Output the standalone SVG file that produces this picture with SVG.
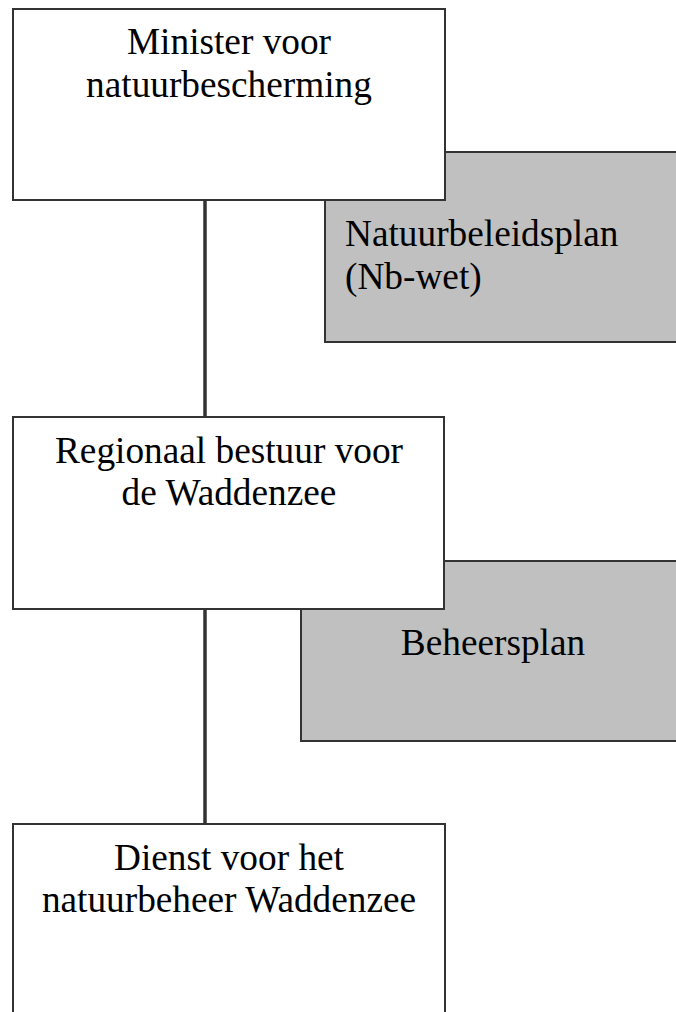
<svg xmlns="http://www.w3.org/2000/svg" width="676" height="1012" viewBox="0 0 676 1012">
<style>
.box{fill:#fff;stroke:#333;stroke-width:2}
.plan{fill:#c0c0c0;stroke:#333;stroke-width:2}
.t{font-family:"Liberation Serif","Times New Roman",serif;font-size:37.3px;fill:#000}
.c{text-anchor:middle}
.conn{stroke:#333;stroke-width:3.5;fill:none}
</style>
<rect width="676" height="1012" fill="#fff"/>
<g id="connectors">
<line class="conn" x1="205" y1="200" x2="205" y2="417"/>
<line class="conn" x1="205" y1="609" x2="205" y2="824"/>
</g>
<g id="natuurbeleidsplan">
<rect class="plan" x="325" y="152" width="360" height="190"/>
<text class="t" x="345" y="246">Natuurbeleidsplan</text>
<text class="t" x="345" y="289">(Nb-wet)</text>
</g>
<g id="beheersplan">
<rect class="plan" x="301" y="561" width="384" height="180"/>
<text class="t c" x="493" y="655">Beheersplan</text>
</g>
<g id="minister">
<rect class="box" x="13" y="9" width="432" height="191"/>
<text class="t c" x="229" y="54">Minister voor</text>
<text class="t c" x="229" y="97">natuurbescherming</text>
</g>
<g id="regionaal">
<rect class="box" x="13" y="417" width="431" height="192"/>
<text class="t c" x="229" y="463">Regionaal bestuur voor</text>
<text class="t c" x="229" y="505">de Waddenzee</text>
</g>
<g id="dienst">
<rect class="box" x="13" y="824" width="432" height="200"/>
<text class="t c" x="229" y="870">Dienst voor het</text>
<text class="t c" x="229" y="912">natuurbeheer Waddenzee</text>
</g>
</svg>
